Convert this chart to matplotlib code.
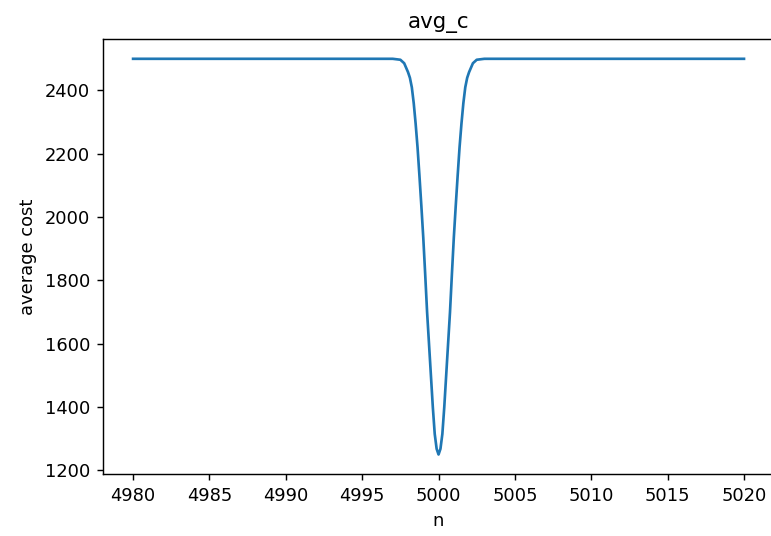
import matplotlib
matplotlib.use("Agg")
import matplotlib.pyplot as plt

# values (flat at 2500, dip at n=5000)
n_vals = [4980, 4985, 4990, 4995, 4997.0, 4997.5, 4997.75,
          4998.0, 4998.125, 4998.25, 4998.375, 4998.5, 4998.625, 4998.75, 4998.875,
          4999.0, 4999.125, 4999.25, 4999.375, 4999.5, 4999.625, 4999.75, 4999.875,
          5000.0,
          5000.125, 5000.25, 5000.375, 5000.5, 5000.625, 5000.75, 5000.875, 5001.0,
          5001.125, 5001.25, 5001.375, 5001.5, 5001.625, 5001.75, 5001.875, 5002.0,
          5002.25, 5002.5, 5003.0, 5005, 5010, 5015, 5020]
avg_cost = [2500, 2500, 2500, 2500, 2500, 2497, 2486,
            2458, 2440, 2410, 2360, 2295, 2220, 2130, 2035,
            1935, 1820, 1700, 1600, 1500, 1400, 1315, 1268,
            1250,
            1268, 1315, 1400, 1500, 1600, 1700, 1820, 1935,
            2035, 2130, 2220, 2295, 2360, 2410, 2440, 2458,
            2486, 2497, 2500, 2500, 2500, 2500, 2500]

DPI = 128.5
fig = plt.figure(figsize=(771 / DPI, 536 / DPI), dpi=DPI)
ax = fig.add_axes([0.133, 0.1151, 0.8716, 0.8121])
ax.plot(n_vals, avg_cost)
ax.set_title("avg_c")
ax.set_xlabel("n")
ax.set_ylabel("average cost")
ax.set_xticks(range(4980, 5021, 5))
ax.set_yticks(range(1200, 2401, 200))
fig.savefig("out.png", dpi=DPI)
